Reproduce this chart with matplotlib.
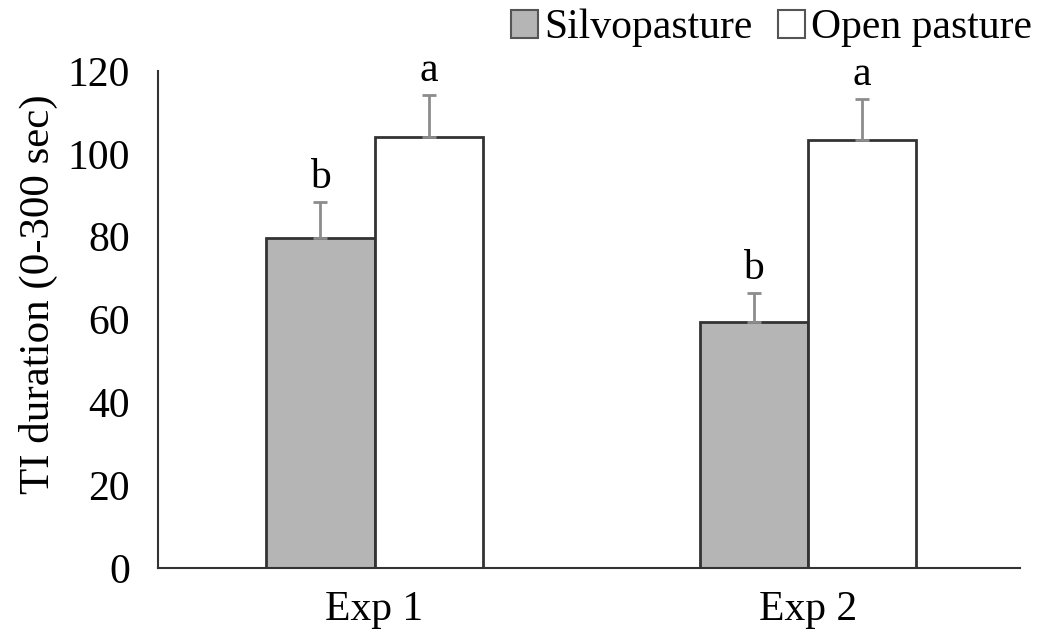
import matplotlib
matplotlib.use("Agg")
import matplotlib.pyplot as plt
import numpy as np
from matplotlib.patches import Patch

plt.rcParams['font.family'] = ['Liberation Serif', 'DejaVu Serif']

experiments = ["Exp 1", "Exp 2"]
silvo = [79.7, 59.4]
silvo_err = [8.7, 7.0]
open_past = [104.1, 103.4]
open_err = [10.2, 9.9]
silvo_letters = ["b", "b"]
open_letters = ["a", "a"]

x = np.arange(len(experiments))
width = 0.25

fig = plt.figure(figsize=(10.52, 6.34), dpi=100)
ax = fig.add_axes([0.150, 0.104, 0.820, 0.784])

ax.bar(x - width/2, silvo, width, color="#b5b5b5", edgecolor="#333333", linewidth=2, zorder=2)
ax.bar(x + width/2, open_past, width, color="white", edgecolor="#333333", linewidth=2, zorder=2)
ax.errorbar(x - width/2, silvo, yerr=[np.zeros(2), silvo_err], fmt="none",
            ecolor="#8c8c8c", elinewidth=2, capsize=5, capthick=2, zorder=3)
ax.errorbar(x + width/2, open_past, yerr=[np.zeros(2), open_err], fmt="none",
            ecolor="#8c8c8c", elinewidth=2, capsize=5, capthick=2, zorder=3)

for i in range(len(x)):
    ax.text(x[i] - width/2, silvo[i] + silvo_err[i] + 1.2, silvo_letters[i],
            ha="center", va="bottom", fontsize=30)
    ax.text(x[i] + width/2, open_past[i] + open_err[i] + 1.2, open_letters[i],
            ha="center", va="bottom", fontsize=30)

ax.set_xlim(-0.5, 1.49)
ax.set_ylim(0, 120)
ax.set_yticks(np.arange(0, 121, 20))
ax.set_xticks(x)
ax.set_xticklabels(experiments)
ax.tick_params(axis="both", labelsize=30, length=0)
ax.tick_params(axis="y", pad=20)
ax.tick_params(axis="x", pad=16)
ax.spines["top"].set_visible(False)
ax.spines["right"].set_visible(False)
ax.spines["left"].set_color("#333333")
ax.spines["bottom"].set_color("#333333")
ax.spines["left"].set_linewidth(1.5)
ax.spines["bottom"].set_linewidth(1.5)
ax.set_ylabel("TI duration (0-300 sec)", fontsize=31)
ax.yaxis.set_label_coords(-0.116, 0.55)

handles = [Patch(facecolor="#b5b5b5", edgecolor="#555555", linewidth=1.5),
           Patch(facecolor="white", edgecolor="#555555", linewidth=1.5)]
fig.legend(handles, ["Silvopasture", "Open pasture"], loc="upper right",
           bbox_to_anchor=(1.017, 1.045), ncol=2, frameon=False, fontsize=30,
           handlelength=0.65, handleheight=0.65, handletextpad=0.15, columnspacing=0.6)

fig.savefig("out.png", dpi=100)
